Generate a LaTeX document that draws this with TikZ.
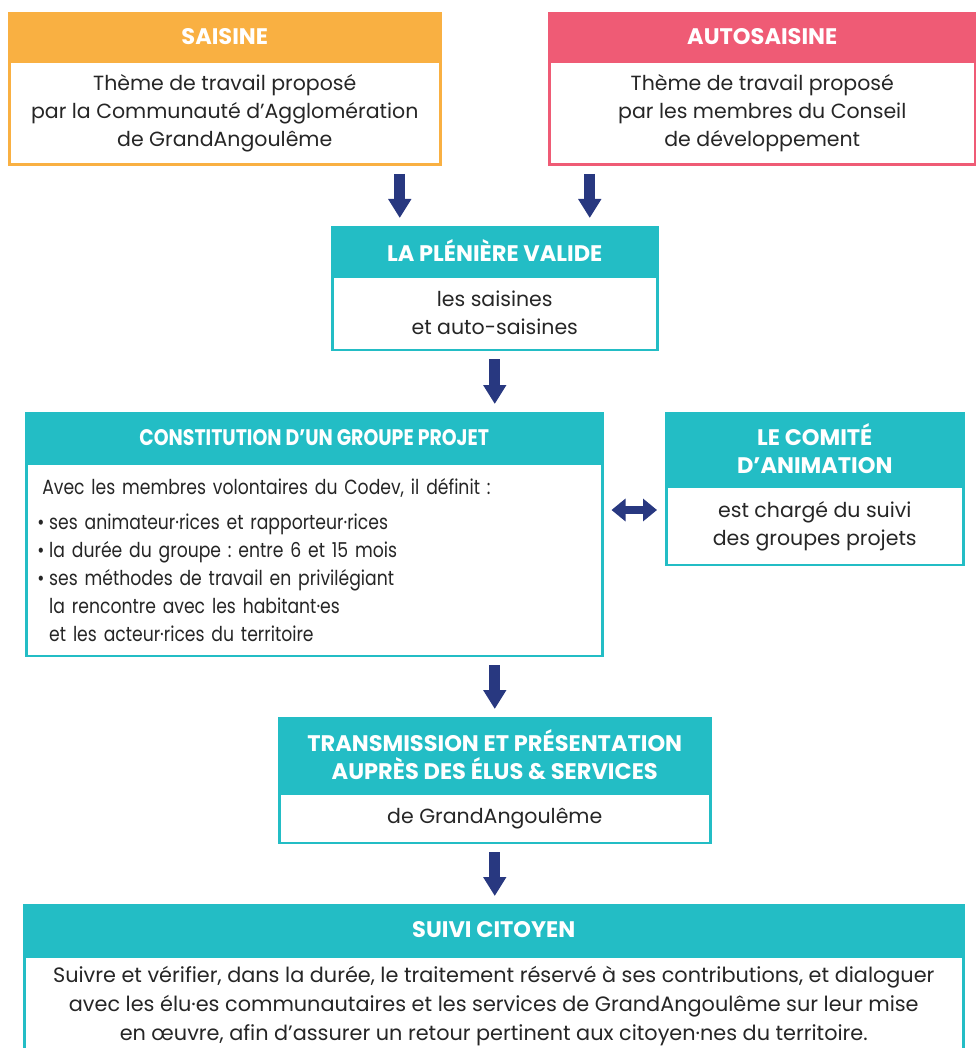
\documentclass[tikz,border=0pt]{standalone}
\usepackage{fontspec}
\setmainfont{Poppins}
\newfontfamily\serre{Poppins}[FakeStretch=0.84]
\usepackage{tikz}
\usetikzlibrary{arrows.meta, positioning, calc}
\definecolor{orangeS}{HTML}{F9B042}
\definecolor{roseA}{HTML}{EF5B75}
\definecolor{turq}{HTML}{23BDC5}
\definecolor{marine}{HTML}{283880}
\definecolor{texte}{HTML}{262626}
\frenchspacing

\begin{document}
\begin{tikzpicture}[x=1pt, y=-1pt, line join=miter,
	titre/.style={fill=#1, draw=#1, line width=2.5pt, text=white, inner sep=0pt, anchor=north west,
		align=center, font=\bfseries\fontsize{22.5}{28}\selectfont},
	corps/.style={draw=#1, fill=white, line width=2.5pt, text=texte, inner sep=0pt, anchor=north,
		align=center, font=\fontsize{20.5}{28}\selectfont},
	fleche/.style={draw=marine, line width=11pt, -{Triangle[width=22pt,length=19pt]},
		shorten <=8pt, shorten >=8pt},
	double fleche/.style={draw=marine, line width=8pt,
		{Triangle[width=22pt,length=14pt]}-{Triangle[width=22pt,length=14pt]},
		shorten <=8pt, shorten >=8pt}]
	\useasboundingbox (0,0) rectangle (975,1048);

	\node[titre=orangeS, minimum width=431pt, minimum height=46pt] (saisineT) at (8,12) {SAISINE};
	\node[corps=orangeS, minimum width=431pt, minimum height=103pt] (saisine) at (saisineT.south)
		{Thème de travail proposé\\par la Communauté d’Agglomération\\de GrandAngoulême};

	\node[titre=roseA, minimum width=426pt, minimum height=46pt] (autoT) at (548,12) {AUTOSAISINE};
	\node[corps=roseA, minimum width=426pt, minimum height=103pt] (auto) at (autoT.south)
		{Thème de travail proposé\\par les membres du Conseil\\de développement};

	\node[titre=turq, minimum width=325pt, minimum height=47pt] (pleniereT) at (331,226) {LA PLÉNIÈRE VALIDE};
	\node[corps=turq, minimum width=325pt, minimum height=73pt] (pleniere) at (pleniereT.south)
		{les saisines\\et auto-saisines};

	\node[titre=turq, minimum width=576pt, minimum height=48pt, font=\serre\bfseries\fontsize{22.5}{28}\selectfont]
		(groupeT) at (25,412) {CONSTITUTION D’UN GROUPE PROJET};
	\node[corps=turq, minimum width=576pt, minimum height=192pt, inner xsep=11pt, text width=554pt, align=left,
		font=\serre\fontsize{20.5}{28}\selectfont] (groupe) at (groupeT.south)
		{\hspace{5pt}Avec les membres volontaires du Codev, il définit :\\[7pt]
		\makebox[12pt][l]{•}ses animateur·rices et rapporteur·rices\\
		\makebox[12pt][l]{•}la durée du groupe : entre 6 et 15 mois\\
		\makebox[12pt][l]{•}ses méthodes de travail en privilégiant\\
		\hspace*{12pt}la rencontre avec les habitant·es\\
		\hspace*{12pt}et les acteur·rices du territoire};

	\node[titre=turq, minimum width=297pt, minimum height=71pt] (comiteT) at (665,412) {LE COMITÉ\\D’ANIMATION};
	\node[corps=turq, minimum width=297pt, minimum height=78pt] (comite) at (comiteT.south)
		{est chargé du suivi\\des groupes projets};

	\node[titre=turq, minimum width=431pt, minimum height=73pt] (transT) at (278,717)
		{TRANSMISSION ET PRÉSENTATION\\AUPRÈS DES ÉLUS \& SERVICES};
	\node[corps=turq, minimum width=431pt, minimum height=49pt] (trans) at (transT.south) {de GrandAngoulême};

	\node[titre=turq, minimum width=939pt, minimum height=49pt] (suiviT) at (23,904) {SUIVI CITOYEN};
	\node[corps=turq, minimum width=939pt, minimum height=98pt, font=\fontsize{20.8}{29}\selectfont]
		(suivi) at (suiviT.south)
		{Suivre et vérifier, dans la durée, le traitement réservé à ses contributions, et dialoguer\\
		avec les élu·es communautaires et les services de GrandAngoulême sur leur mise\\
		en œuvre, afin d’assurer un retour pertinent aux citoyen·nes du territoire.};

	\coordinate (g) at ([xshift=-95pt]pleniereT.north);
	\coordinate (d) at ([xshift=95pt]pleniereT.north);
	\coordinate (m) at (0,510);
	\path
		(g |- saisine.south) edge[fleche] (g)
		(d |- auto.south) edge[fleche] (d)
		(pleniere.south) edge[fleche] (groupeT.north -| pleniere.south)
		(groupe.south -| transT.north) edge[fleche] (transT.north)
		(trans.south) edge[fleche] (suiviT.north -| trans.south)
		(groupe.east |- m) edge[double fleche] (comite.west |- m);
\end{tikzpicture}
\end{document}
